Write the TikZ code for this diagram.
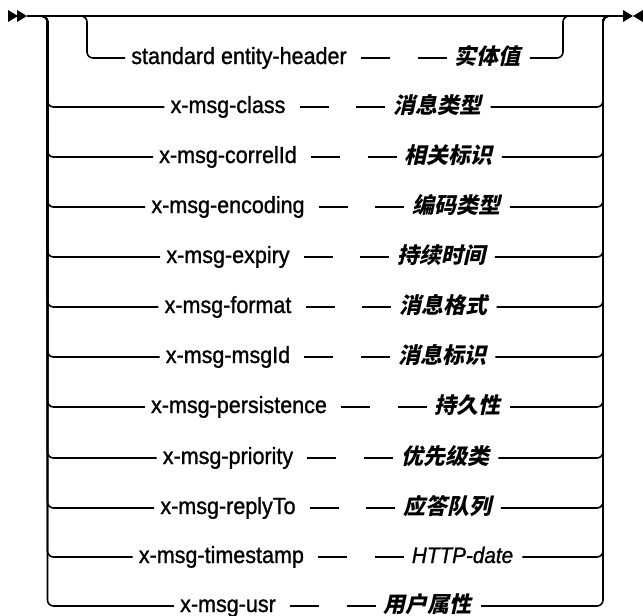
\documentclass[tikz,border=0pt]{standalone}
\usepackage{fontspec}
\setmainfont{Liberation Sans}[
  FakeStretch=0.92,
  BoldFont={Liberation Sans},
  BoldFeatures={FakeBold=1.1},
  BoldItalicFont={Liberation Sans Italic},
  BoldItalicFeatures={FakeBold=1.1}]
\newfontfamily\cjkfam[FakeSlant=0.22]{Noto Sans CJK SC}
\newcommand\kwf{\fontsize{23.4}{27}\selectfont\bfseries}
\newcommand\zh[1]{{\fontsize{22}{25}\selectfont\cjkfam\bfseries #1}}
\newcommand\varit[1]{{\fontsize{22.5}{26}\selectfont\bfseries\itshape #1}}
\tikzset{
  x=1pt, y=-1pt,
  rail/.style={line width=1.6pt},
  railbend/.style={rail, rounded corners=6pt},
  grp/.style={inner sep=0pt, anchor=base},
  kwbox/.style={inner sep=0pt, anchor=base west, font=\kwf},
  valbox/.style={inner sep=0pt, anchor=base east},
  tip/.style={fill=black, draw=none}
}
% #1 name, #2 row y, #3 keyword, #4 value
\newcommand\rrow[4]{%
  \node[grp] (#1g) at (326,{#2+6}) {\phantom{\kwf #3}\hspace{108pt}\phantom{#4}};
  \node[kwbox] (#1k) at (#1g.base west) {#3};
  \node[valbox] (#1v) at (#1g.base east) {#4};
  \coordinate (#1L) at ([xshift=-6pt,yshift=6pt]#1k.base west);
  \coordinate (#1R) at ([xshift=9pt,yshift=6pt]#1v.base east);
  \coordinate (#1a) at ([xshift=14pt,yshift=6pt]#1k.base east);
  \coordinate (#1b) at ([xshift=43pt,yshift=6pt]#1k.base east);
  \coordinate (#1c) at ([xshift=-37pt,yshift=6pt]#1v.base west);
  \coordinate (#1d) at ([xshift=-8pt,yshift=6pt]#1v.base west);
  \draw[rail] (#1a) -- (#1b);
  \draw[rail] (#1c) -- (#1d);
}
\newcommand\outrow[1]{%
  \draw[railbend] (lin) -- (lt) |- (#1L);
  \draw[railbend] (#1R) -| (rt) -- (rout);
}
\begin{document}
\begin{tikzpicture}
\useasboundingbox (0,0) rectangle (643,616);
% main line and end marks
\coordinate (start) at (27,16);
\coordinate (end) at (623,16);
\draw[rail] (start) -- (end);
\fill[tip] (8,10) -- (18,16) -- (8,22) -- cycle;
\fill[tip] (17,10) -- (27,16) -- (17,22) -- cycle;
\fill[tip] (623,10) -- (633,16) -- (623,22) -- cycle;
\fill[tip] (643,10) -- (633,16) -- (643,22) -- cycle;
% rail coordinates
\coordinate (lin) at (38,16);
\coordinate (lt) at (47.5,16);
\coordinate (rt) at (603,16);
\coordinate (rout) at (612,16);
\coordinate (ilin) at (78,16);
\coordinate (ilt) at (87,16);
\coordinate (irt) at (563,16);
\coordinate (irout) at (572,16);
% rows
\rrow{rs}{58}{standard entity-header}{\zh{实体值}}
\rrow{rc}{107}{x-msg-class}{\zh{消息类型}}
\rrow{rr}{157}{x-msg-correlId}{\zh{相关标识}}
\rrow{re}{207}{x-msg-encoding}{\zh{编码类型}}
\rrow{rx}{257}{x-msg-expiry}{\zh{持续时间}}
\rrow{rf}{307}{x-msg-format}{\zh{消息格式}}
\rrow{rm}{357}{x-msg-msgId}{\zh{消息标识}}
\rrow{rp}{407}{x-msg-persistence}{\zh{持久性}}
\rrow{rq}{458}{x-msg-priority}{\zh{优先级类}}
\rrow{rt2}{508}{x-msg-replyTo}{\zh{应答队列}}
\rrow{rh}{557}{x-msg-timestamp}{\varit{HTTP-date}}
\rrow{ru}{606}{x-msg-usr}{\zh{用户属性}}
% inner loop for first row
\draw[railbend] (ilin) -- (ilt) |- (rsL);
\draw[railbend] (rsR) -| (irt) -- (irout);
% outer loop rows
\outrow{rc}\outrow{rr}\outrow{re}\outrow{rx}\outrow{rf}\outrow{rm}
\outrow{rp}\outrow{rq}\outrow{rt2}\outrow{rh}\outrow{ru}
\end{tikzpicture}
\end{document}
